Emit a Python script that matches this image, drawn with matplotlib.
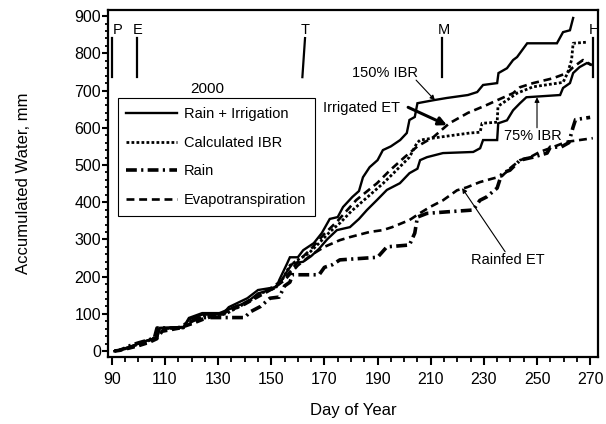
import numpy as np
import matplotlib
matplotlib.use("Agg")
import matplotlib.pyplot as plt
from matplotlib.ticker import MultipleLocator

plt.rcParams['font.family'] = ['Liberation Sans', 'DejaVu Sans']

# 150% IBR, rain + irrigation
day_150 = [91, 94, 97, 100, 104, 107, 108, 117, 119, 124, 132, 134, 141, 145, 152, 153, 156, 157, 160,
           162, 166, 169, 172, 175, 177, 180.5, 183, 184.5, 187, 190, 192, 195, 198.5, 201, 202, 204,
           205, 208, 211, 216, 224, 227.5, 229.7, 235, 235.5, 238.7, 241, 242.5, 246.3, 257.5, 259.8,
           262.4, 263.6]
val_150 = [0, 5, 12, 20, 30, 35, 62, 65, 89, 102, 102, 118, 142, 164, 172, 191, 236, 252, 252,
           271, 290, 317, 355, 360, 387, 414, 430, 467, 494, 513, 540, 550, 567, 586, 621, 629,
           666, 670, 674, 680, 688, 696, 715, 720, 747, 760, 782, 790, 827, 827, 857,
           862, 895]

# 75% IBR, rain + irrigation
day_75 = [91, 94, 97, 100, 104, 107, 108, 117, 119, 124, 132, 134, 141, 145, 150, 153, 156, 158, 162,
          165, 168, 171, 174.7, 179.6, 183, 186, 189.8, 193.5, 198.4, 202, 205, 206, 208.6, 214.6,
          226, 228.6, 229.7, 235, 235.4, 238.7, 241, 243.6, 246, 258.7, 259.8, 262.4, 263.6, 266,
          268.8, 270]
val_75 = [0, 5, 12, 20, 30, 35, 62, 63, 85, 98, 98, 112, 132, 155, 165, 180, 215, 235, 240,
          255, 275, 300, 325, 333, 355, 379, 406, 433, 451, 478, 490, 513, 521, 532,
          535, 545, 567, 567, 612, 620, 647, 666, 682, 688, 707, 720, 747, 763,
          774, 770]

# calculated IBR
day_ibr = [91, 95, 100, 104, 107, 108, 117, 120, 125, 133, 136, 142, 146, 151, 154, 157, 160, 164, 168,
           172, 176, 180, 184, 188, 192, 196, 202, 204.8, 206, 213.5, 224.8, 228.6, 229.3, 235,
           235.3, 236, 242.5, 248.5, 256, 259.8, 261.5, 263, 263.6, 268.8]
val_ibr = [0, 6, 18, 28, 40, 60, 62, 80, 95, 100, 112, 135, 155, 168, 190, 230, 245, 262, 290,
           320, 345, 375, 400, 425, 450, 478, 521, 559, 567, 575, 586, 588, 612, 615,
           655, 661, 693, 710, 718, 722, 747, 782, 827, 830]

# irrigated ET
day_iet = [91, 95, 100, 104, 107, 109, 115, 120, 125, 130, 135, 140, 145, 150, 155, 160, 165, 170, 175,
           182, 189.8, 194.7, 200, 205, 211, 217, 224, 231, 235, 241, 243.6, 248.5, 256, 261.3,
           263.6, 267.3, 270.7]
val_iet = [0, 5, 15, 25, 35, 55, 62, 75, 90, 100, 115, 130, 150, 170, 195, 240, 275, 315, 350,
           406, 451, 486, 520, 550, 575, 612, 640, 661, 674, 693, 709, 720, 733, 747,
           763, 782, 768]

# rainfed ET
day_ret = [91, 95, 100, 104, 107, 109, 115, 120, 125, 130, 135, 140, 145, 150, 155, 160, 165, 170,
           175.8, 179.5, 187, 192, 195.5, 202, 205.8, 209.7, 214.6, 219.9, 223.6, 228.5, 233,
           236.8, 240, 243.6, 247.4, 251, 256, 261, 266, 271]
val_ret = [0, 4, 13, 22, 32, 52, 60, 72, 86, 97, 110, 125, 145, 165, 190, 230, 258, 280,
           298, 306, 320, 325, 333, 352, 370, 387, 405, 432, 440, 454, 463,
           470, 492, 513, 521, 535, 548, 562, 567, 572]

# rain
day_rain = [91, 93, 95, 97, 100, 103, 106, 107, 115, 117, 120, 123, 140, 142, 146, 149.5, 153, 155,
            157, 158, 168, 170, 173, 175.8, 190, 193.5, 202, 204, 205, 208.6, 216, 226, 228.5,
            231, 235, 236.8, 239.8, 243.6, 248.5, 253.8, 255, 259, 262, 263.5, 264.5, 270]
val_rain = [0, 2, 8, 15, 22, 28, 35, 62, 62, 70, 80, 90, 90, 105, 120, 142, 145, 175,
            185, 205, 205, 225, 232, 245, 252, 280, 285, 317, 360, 370, 374, 379, 405,
            414, 438, 478, 486, 513, 521, 532, 548, 548, 560, 600, 622, 628]

stage_names = ['P', 'E', 'T', 'M', 'H']
stage_days = [90.2, 99.3, 162.2, 214.4, 271]

fig, ax = plt.subplots(figsize=(6.06, 4.24), dpi=100)
fig.subplots_adjust(left=0.178, right=0.987, bottom=0.158, top=0.976)

solid = dict(color='black', lw=1.7, solid_joinstyle='miter')
ax.plot(day_150, val_150, '-', label='Rain + Irrigation', **solid)
ax.plot(day_75, val_75, '-', **solid)
ax.plot(day_ibr, val_ibr, color='black', lw=2.0, ls=(0, (1, 0.8)), label='Calculated IBR')
ax.plot(day_rain, val_rain, color='black', lw=2.6, ls=(0, (3, 1.2, 0.6, 1.2)), label='Rain')
ax.plot(day_iet, val_iet, color='black', lw=1.9, ls=(0, (3, 1.8)), label='Evapotranspiration')
ax.plot(day_ret, val_ret, color='black', lw=1.9, ls=(0, (3, 1.8)))

# growth stage marks
for name, d in zip(stage_names, stage_days):
    if name == 'T':
        ax.plot([d + 0.5, d - 0.5], [841, 736], color='black', lw=1.6)
    else:
        ax.plot([d, d], [841, 736], color='black', lw=1.6)
    off = 1.8 if name == 'P' else 0.4
    ax.text(d + off, 862, name, ha='center', va='center', fontsize=10.5)

ax.text(126, 704, '2000', ha='center', va='center', fontsize=11)

# labels and their arrows
thin = dict(arrowstyle='-|>', color='black', lw=0.8, mutation_scale=7, shrinkA=0, shrinkB=0)
ax.text(192.8, 747, '150% IBR', ha='center', va='center', fontsize=10.5)
ax.annotate('', xy=(211.6, 674), xytext=(204.5, 728), arrowprops=thin)
ax.text(183.8, 653, 'Irrigated ET', ha='center', va='center', fontsize=10.5)
ax.annotate('', xy=(216.1, 607), xytext=(201.5, 655),
            arrowprops=dict(arrowstyle='-|>', color='black', lw=2.2, mutation_scale=12,
                            shrinkA=0, shrinkB=0))
ax.text(248.5, 578, '75% IBR', ha='center', va='center', fontsize=10.5)
ax.annotate('', xy=(250, 682), xytext=(250, 600), arrowprops=thin)
ax.text(239, 245, 'Rainfed ET', ha='center', va='center', fontsize=10.5)
ax.annotate('', xy=(221.8, 438), xytext=(238, 267), arrowprops=thin)

ax.set_xlim(88.5, 273)
ax.set_ylim(-16, 916)
ax.xaxis.set_major_locator(MultipleLocator(20))
ax.xaxis.set_minor_locator(MultipleLocator(5))
ax.yaxis.set_major_locator(MultipleLocator(100))
ax.yaxis.set_minor_locator(MultipleLocator(20))
ax.set_xticks(np.arange(90, 271, 20))
ax.tick_params(which='major', direction='out', length=6, width=1.5, labelsize=11.5, pad=5)
ax.tick_params(which='minor', direction='out', length=3.5, width=1.3)
ax.tick_params(axis='y', which='major', length=4, pad=1)
ax.tick_params(axis='y', which='minor', length=2.5)
for s in ax.spines.values():
    s.set_linewidth(1.6)

ax.set_xlabel('Day of Year', fontsize=12, labelpad=11)
ax.set_ylabel('Accumulated Water, mm', fontsize=12, labelpad=31)

leg = ax.legend(loc='upper left', bbox_to_anchor=(0.02, 0.746), fontsize=10.5, frameon=True,
                fancybox=False, edgecolor='black', framealpha=1, handlelength=3.5,
                labelspacing=1.0, borderpad=0.6, handletextpad=0.45, borderaxespad=0)
leg.get_frame().set_linewidth(0.8)

fig.savefig('out.png', dpi=100)
